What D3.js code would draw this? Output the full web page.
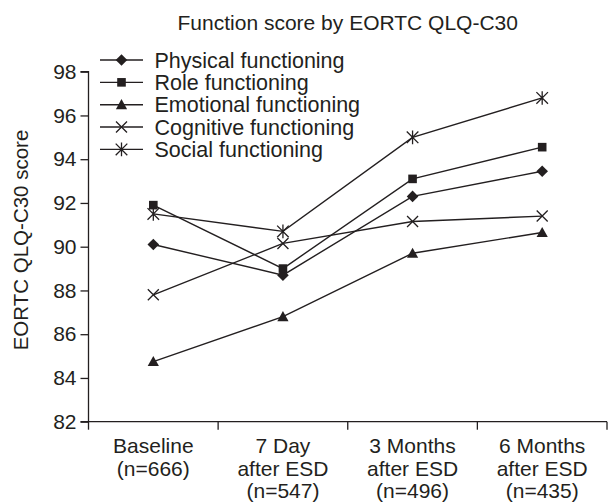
<!DOCTYPE html>
<html>
<head>
<meta charset="utf-8">
<script src="https://cdn.jsdelivr.net/npm/d3@7"></script>
<style>
  html, body { margin: 0; padding: 0; background: #fff; }
  svg { display: block; font-family: "Liberation Sans", Arial, Helvetica, sans-serif; }
</style>
</head>
<body>
<svg id="chart" width="609" height="502"></svg>
<script>
const categories = [
  ["Baseline", "(n=666)"],
  ["7 Day", "after ESD", "(n=547)"],
  ["3 Months", "after ESD", "(n=496)"],
  ["6 Months", "after ESD", "(n=435)"]
];
const physical  = [90.1, 88.7, 92.3, 93.45];
const role      = [91.9, 89.0, 93.1, 94.55];
const emotional = [84.75, 86.8, 89.7, 90.65];
const cognitive = [87.8, 90.15, 91.15, 91.4];
const social    = [91.5, 90.7, 95.0, 96.8];
const seriesNames = ["Physical functioning", "Role functioning", "Emotional functioning", "Cognitive functioning", "Social functioning"];
const yTicks = [82, 84, 86, 88, 90, 92, 94, 96, 98];

const series = [
  { name: seriesNames[0], values: physical,  marker: "diamond" },
  { name: seriesNames[1], values: role,      marker: "square" },
  { name: seriesNames[2], values: emotional, marker: "triangle" },
  { name: seriesNames[3], values: cognitive, marker: "cross" },
  { name: seriesNames[4], values: social,    marker: "asterisk" }
];

const ink = "#231f20";
const svg = d3.select("#chart");
const mLeft = 88.5, mRight = 607, mTop = 71.7, mBottom = 421.7;

const x = d3.scaleBand().domain(d3.range(categories.length)).range([mLeft, mRight]);
const y = d3.scaleLinear().domain([82, 98]).range([mBottom, mTop]);

// Title
svg.append("text").attr("x", (mLeft + mRight) / 2).attr("y", 29.5)
  .attr("text-anchor", "middle").attr("font-size", 21).attr("fill", ink)
  .text("Function score by EORTC QLQ-C30");

// Y axis
const yAxis = svg.append("g").attr("transform", `translate(${mLeft},0)`)
  .call(d3.axisLeft(y).tickValues(yTicks).tickSize(8).tickPadding(4).tickFormat(d3.format("d")));
yAxis.select(".domain").attr("stroke", ink).attr("stroke-width", 1.3).attr("d", `M-8,${mTop}H0V${mBottom}`);
yAxis.selectAll(".tick line").attr("stroke", ink).attr("stroke-width", 1.3);
yAxis.selectAll(".tick text").attr("font-size", 21).attr("fill", ink)
  .attr("font-family", "Liberation Sans, Arial, sans-serif");

// Y title
svg.append("text").attr("transform", `translate(28,240) rotate(-90)`)
  .attr("text-anchor", "middle").attr("font-size", 20.5).attr("fill", ink)
  .text("EORTC QLQ-C30 score");

// X axis
const xg = svg.append("g");
xg.append("line").attr("x1", mLeft - 8).attr("x2", mRight).attr("y1", mBottom).attr("y2", mBottom)
  .attr("stroke", ink).attr("stroke-width", 1.3);
const bounds = d3.range(categories.length + 1).map(i => i < categories.length ? x(i) : x(i - 1) + x.bandwidth());
xg.selectAll(".xt").data(bounds).join("line")
  .attr("x1", d => d).attr("x2", d => d).attr("y1", mBottom).attr("y2", mBottom + 8)
  .attr("stroke", ink).attr("stroke-width", 1.3);
const xl = xg.selectAll(".xl").data(categories).join("text")
  .attr("text-anchor", "middle").attr("font-size", 21).attr("fill", ink);
xl.each(function(d, i) {
  d3.select(this).selectAll("tspan").data(d).join("tspan")
    .attr("x", x(i) + x.bandwidth() / 2)
    .attr("y", (t, j) => 453 + j * 22.5)
    .text(t => t);
});

// Markers
function drawMarker(g, type, cx, cy) {
  if (type === "diamond") {
    const r = 5.8;
    g.append("path").attr("d", `M${cx},${cy - r}L${cx + r},${cy}L${cx},${cy + r}L${cx - r},${cy}Z`).attr("fill", ink);
  } else if (type === "square") {
    const r = 4.3;
    g.append("rect").attr("x", cx - r).attr("y", cy - r).attr("width", 2 * r).attr("height", 2 * r).attr("fill", ink);
  } else if (type === "triangle") {
    const r = 5.6;
    g.append("path").attr("d", `M${cx},${cy - r}L${cx + r},${cy + r * 0.8}L${cx - r},${cy + r * 0.8}Z`).attr("fill", ink);
  } else if (type === "cross") {
    const r = 5.5;
    g.append("path").attr("d", `M${cx - r},${cy - r}L${cx + r},${cy + r}M${cx - r},${cy + r}L${cx + r},${cy - r}`)
      .attr("stroke", ink).attr("stroke-width", 1.3).attr("fill", "none");
  } else if (type === "asterisk") {
    const r = 5.8;
    g.append("path").attr("d", `M${cx - r},${cy - r}L${cx + r},${cy + r}M${cx - r},${cy + r}L${cx + r},${cy - r}M${cx},${cy - r - 1}L${cx},${cy + r + 1}`)
      .attr("stroke", ink).attr("stroke-width", 1.3).attr("fill", "none");
  }
}

const line = d3.line().x((d, i) => x(i) + x.bandwidth() / 2).y(d => y(d));
const plot = svg.append("g");
series.forEach(s => {
  plot.append("path").attr("d", line(s.values)).attr("fill", "none").attr("stroke", ink).attr("stroke-width", 1.4);
});
series.forEach(s => {
  const g = plot.append("g");
  s.values.forEach((v, i) => drawMarker(g, s.marker, x(i) + x.bandwidth() / 2, y(v)));
});

// Legend
const legend = svg.append("g");
series.forEach((s, i) => {
  const cy = 60 + i * 22.35;
  legend.append("line").attr("x1", 100).attr("x2", 143).attr("y1", cy).attr("y2", cy)
    .attr("stroke", ink).attr("stroke-width", 1.4);
  drawMarker(legend, s.marker, 121.5, cy);
  legend.append("text").attr("x", 154.5).attr("y", cy + 7.7).attr("font-size", 21.5).attr("fill", ink).text(s.name);
});
</script>
</body>
</html>
